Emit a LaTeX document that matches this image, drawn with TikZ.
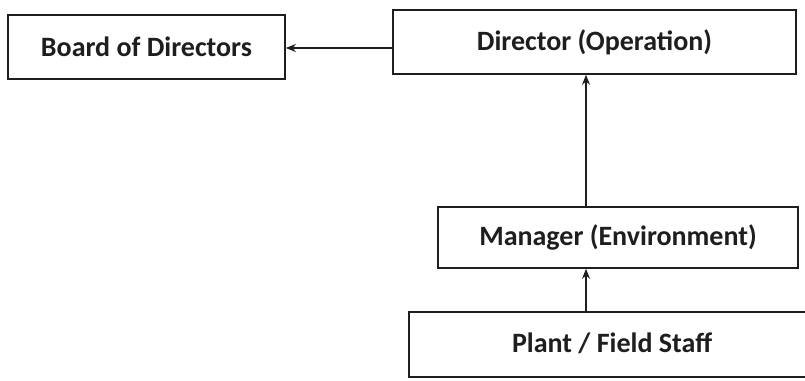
\documentclass[tikz,border=0pt]{standalone}
\usepackage{fontspec}
\setmainfont{Carlito}
\usetikzlibrary{arrows.meta}
\definecolor{ink}{HTML}{1E1E1E}
\tikzset{
  orgbox/.style={draw=ink, line width=1.7pt, inner sep=0pt, font=\fontsize{28}{32}\selectfont\bfseries, text=ink},
  link/.style={draw=ink, line width=1.6pt, -{Stealth[length=10pt,width=8pt]}}
}
\begin{document}
\begin{tikzpicture}[x=1pt,y=1pt]
\useasboundingbox (0,0) rectangle (805,380);
\fill[white] (0,0) rectangle (805,380);
\node[orgbox, minimum width=277pt, minimum height=64pt] (board) at (146.5,333) {Board of Directors};
\node[orgbox, minimum width=403pt, minimum height=64pt] (dir) at (594.5,338) {Director (Operation)};
\node[orgbox, minimum width=360pt, minimum height=61pt] (mgr) at (618,142.5) {Manager (Environment)};
\node[orgbox, minimum width=406pt, minimum height=65pt, text depth=0pt] (plant) at (612,35.5) {\raisebox{4pt}{Plant / Field Staff}};
\coordinate (ay) at (0,332);
\coordinate (ax) at (586,0);
\draw[link] (dir.west |- ay) -- (board.east |- ay);
\draw[link] (mgr.north -| ax) -- (dir.south -| ax);
\draw[link] (plant.north -| ax) -- (mgr.south -| ax);
\end{tikzpicture}
\end{document}
